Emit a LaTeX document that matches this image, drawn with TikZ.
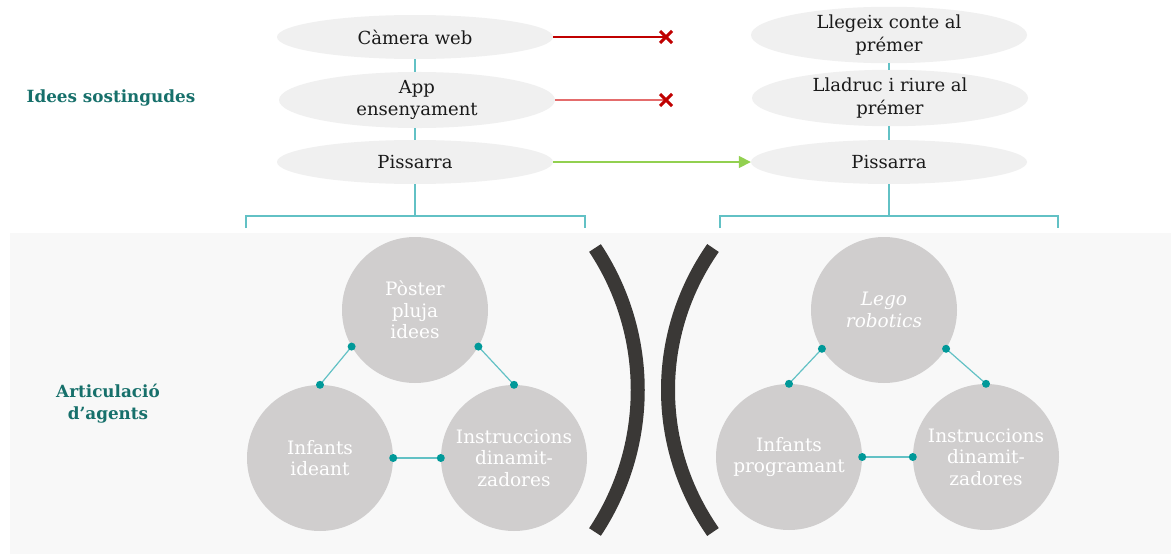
\documentclass[tikz,border=0pt]{standalone}
\usepackage{fontspec}
\setmainfont{DejaVu Serif}
\usetikzlibrary{arrows.meta,shapes.geometric,calc}
\definecolor{ellfill}{HTML}{F0F0F0}
\definecolor{txt}{HTML}{1A1A1A}
\definecolor{teal1}{HTML}{62C1C5}
\definecolor{tealdot}{HTML}{009999}
\definecolor{labelc}{HTML}{17706B}
\definecolor{circfill}{HTML}{D0CECE}
\definecolor{panel}{HTML}{F8F8F8}
\definecolor{redA}{HTML}{C00000}
\definecolor{redB}{HTML}{E46C6C}
\definecolor{greenA}{HTML}{92D050}
\definecolor{arcc}{HTML}{3A3836}
\tikzset{
  idea/.style={ellipse, fill=ellfill, minimum width=276pt, minimum height=44pt, inner sep=0pt,
    text=txt, align=center, font=\fontsize{18}{22.5}\selectfont},
  agent/.style={circle, fill=circfill, minimum size=146pt, inner sep=0pt, text=white,
    align=center, font=\fontsize{18.5}{21.5}\selectfont},
  vlink/.style={draw=teal1, line width=1.6pt},
  clink/.style={draw=teal1, line width=1.2pt},
  cdot/.style={fill=tealdot},
  sidelabel/.style={text=labelc, align=center, font=\fontsize{16.8}{22}\selectfont\bfseries},
  xmark/.style={draw=redA, line width=3pt},
  parc/.style={draw=arcc, line width=14pt}
}
\begin{document}
\begin{tikzpicture}[x=1pt,y=-1pt]
\useasboundingbox (0,0) rectangle (1171,554);
\fill[white] (0,0) rectangle (1171,554);
\fill[panel] (10,233) rectangle (1171,554);

% side labels
\node[sidelabel] (lab1) at (111,98) {Idees sostingudes};
\node[sidelabel] (lab2) at (108,404) {Articulació\\d’agents};

% left ideas
\node[idea] (cam) at (415,37) {Càmera web};
\node[idea] (app) at (417,100) {App\\ensenyament};
\node[idea] (pisL) at (415,162) {Pissarra};
% right ideas
\node[idea] (lleg) at (889,35) {Llegeix conte al\\prémer};
\node[idea] (lladr) at (890,98) {Lladruc i riure al\\prémer};
\node[idea] (pisR) at (889,162) {Pissarra};

% vertical links
\draw[vlink] (cam.south) -- (cam.south |- app.north);
\draw[vlink] (pisL.north |- app.south) -- (pisL.north);
\draw[vlink] (lleg.south) -- (lleg.south |- lladr.north);
\draw[vlink] (pisR.north |- lladr.south) -- (pisR.north);

% brackets
\coordinate (bL) at (415,216);
\coordinate (bLa) at (246,216);
\coordinate (bLb) at (585,216);
\coordinate (bLa2) at (246,228);
\coordinate (bLb2) at (585,228);
\draw[vlink] (pisL.south) -- (bL);
\draw[vlink] (bLa2) -- (bLa) -- (bLb) -- (bLb2);
\coordinate (bR) at (889,216);
\coordinate (bRa) at (720,216);
\coordinate (bRb) at (1058,216);
\coordinate (bRa2) at (720,228);
\coordinate (bRb2) at (1058,228);
\draw[vlink] (pisR.south) -- (bR);
\draw[vlink] (bRa2) -- (bRa) -- (bRb) -- (bRb2);

% red crosses
\coordinate (x1) at (666,37);
\coordinate (x2) at (666,100);
\draw[draw=redA, line width=1.2pt] (cam.east) -- (x1);
\draw[draw=redB, line width=2pt] (app.east) -- (x2);
\draw[xmark] ($(x1)+(-6,-6)$) -- ($(x1)+(6,6)$) ($(x1)+(-6,6)$) -- ($(x1)+(6,-6)$);
\draw[xmark] ($(x2)+(-6,-6)$) -- ($(x2)+(6,6)$) ($(x2)+(-6,6)$) -- ($(x2)+(6,-6)$);

% green arrow
\draw[draw=greenA, line width=1.6pt, -{Triangle[length=12pt,width=12pt]}] (pisL.east) -- (pisR.west);

% parentheses
\draw[parc] (595,248) .. controls (652,334) and (652,446) .. (595,532);
\draw[parc] (713,248) .. controls (653,334) and (653,446) .. (713,532);

% left agents
\node[agent] (post) at (415,310) {Pòster\\pluja\\idees};
\node[agent] (infI) at (320,458) {Infants\\ideant};
\node[agent] (insL) at (514,458) {Instruccions\\dinamit-\\zadores};
% right agents
\node[agent] (lego) at (884,310) {\itshape Lego\\\itshape robotics};
\node[agent] (infP) at (789,457) {Infants\\programant};
\node[agent] (insR) at (986,457) {Instruccions\\dinamit-\\zadores};

% agent links
\foreach \a/\b in {post.210/infI.north, post.330/insL.north, infI.east/insL.west,
                   lego.212/infP.north, lego.328/insR.north, infP.east/insR.west}{
  \draw[clink] (\a) -- (\b);
  \fill[cdot] (\a) circle[radius=4pt];
  \fill[cdot] (\b) circle[radius=4pt];
}
\end{tikzpicture}
\end{document}
